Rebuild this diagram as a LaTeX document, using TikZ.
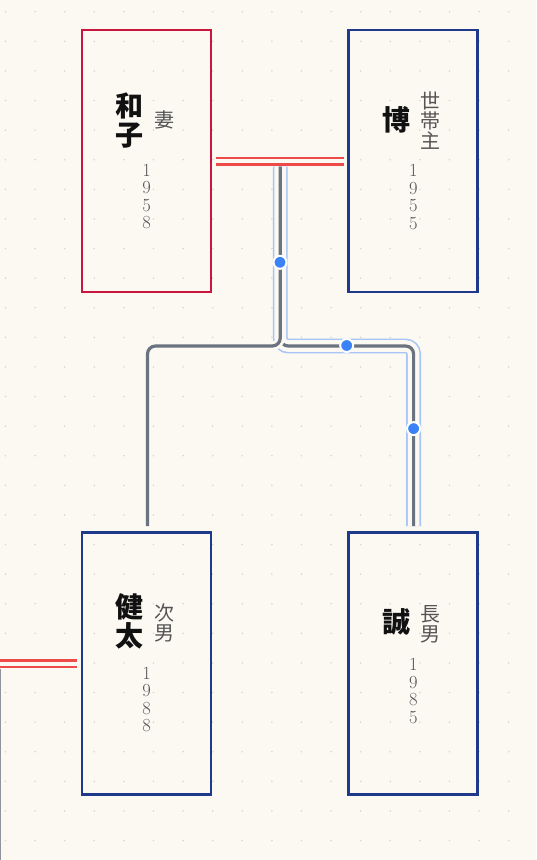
\documentclass[tikz,border=0pt]{standalone}
\usepackage{fontspec}
\newfontfamily\cjk{Noto Sans CJK JP}
\usetikzlibrary{calc}
\definecolor{bg}{HTML}{FCF8F2}
\definecolor{griddot}{HTML}{DAD6D0}
\definecolor{wife}{HTML}{C8163E}
\definecolor{man}{HTML}{1F3A8A}
\definecolor{wed}{HTML}{EF4A4A}
\definecolor{kid}{HTML}{6B7280}
\definecolor{edgegray}{HTML}{8E939C}
\definecolor{halo}{HTML}{A8C5F7}
\definecolor{dotblue}{HTML}{3B82F6}
\definecolor{ink}{HTML}{111111}
\definecolor{soft}{HTML}{555555}
\begin{document}
\begin{tikzpicture}[x=1pt,y=-1pt,
  personbox/.style={draw, line width=2.8pt, minimum width=129pt, minimum height=262pt, inner sep=0pt, outer sep=0pt},
  femalebox/.style={personbox, draw=wife},
  malebox/.style={personbox, draw=man},
  namecol/.style={font=\cjk\bfseries\fontsize{28}{28.5}\selectfont, text=ink, align=center, inner sep=0pt},
  rolecol/.style={font=\cjk\fontsize{20}{20}\selectfont, text=soft, align=center, inner sep=0pt},
  yearcol/.style={font=\fontsize{18.5}{17.6}\selectfont, text=soft, align=center, inner sep=0pt},
  marriage/.style={draw=wed, line width=2.5pt, double=bg, double distance=4pt},
  haloouter/.style={draw=halo, line width=14.8pt, rounded corners=8pt},
  haloinner/.style={draw=bg, line width=11.6pt, rounded corners=8pt},
  casing/.style={draw=bg, line width=9pt, rounded corners=8pt},
  kidline/.style={draw=kid, line width=3.2pt, rounded corners=8pt},
  pathdot/.style={circle, fill=dotblue, draw=white, line width=2pt, minimum size=13pt, inner sep=0pt}
]
\useasboundingbox (0,0) rectangle (536,860);
\fill[bg] (0,0) rectangle (536,860);
\foreach \i in {0,...,17}{
  \foreach \j in {0,...,28}{
    \fill[griddot] (5.5+29.6*\i, 11.7+29.6*\j) circle (0.9pt);
  }
}

% person boxes
\node[femalebox] (kazuko) at (146.5,161) {};
\node[malebox] (hiroshi) at (413,161) {};
\node[malebox] (kenta) at (146.5,663.5) {};
\node[malebox] (makoto) at (413,663.5) {};

% texts
\node[namecol] (kazukoName) at (129.3,120.5) {和\\子};
\node[rolecol] (kazukoRole) at (164,120) {妻};
\node[yearcol] (kazukoYear) at (146.7,196.5) {1\\9\\5\\8};

\node[namecol] (hiroshiName) at (396,120) {博};
\node[rolecol] (hiroshiRole) at (430,120.5) {世\\帯\\主};
\node[yearcol] (hiroshiYear) at (413.3,197) {1\\9\\5\\5};

\node[namecol] (kentaName) at (129.3,621.5) {健\\太};
\node[rolecol] (kentaRole) at (164,623) {次\\男};
\node[yearcol] (kentaYear) at (146.7,699.5) {1\\9\\8\\8};

\node[namecol] (makotoName) at (396,622) {誠};
\node[rolecol] (makotoRole) at (430,624) {長\\男};
\node[yearcol] (makotoYear) at (413.3,691) {1\\9\\8\\5};

% marriage lines
\draw[marriage] ([xshift=5pt]kazuko.east) -- ([xshift=-5pt]hiroshi.west);
\coordinate (offLeft) at (0,663.5);
\draw[marriage] ([xshift=-5pt]kenta.west) -- (offLeft);
\coordinate (offTop) at (0.3,669);
\coordinate (offBottom) at (0.3,860);
\draw[edgegray, line width=1.4pt] (offTop) -- (offBottom);

% descent coordinates
\coordinate (wedmid) at ($(kazuko.east)!0.5!(hiroshi.west)$);
\coordinate (drop) at ($(wedmid)+(0.5,5.5)$);
\coordinate (fork) at ($(drop)+(0,179.5)$);
\coordinate (kentaTop) at ($(kenta.north)+(1,-6.5)$);
\coordinate (makotoTop) at ($(makoto.north)+(0.6,-6.5)$);

% highlighted branch (to makoto)
\draw[haloouter] (drop) -- (fork) -- (fork -| makotoTop) -- (makotoTop);
\draw[haloinner] (drop) -- (fork) -- (fork -| makotoTop) -- (makotoTop);
\draw[kidline] (drop) -- (fork) -- (fork -| makotoTop) -- (makotoTop);

% other branch (to kenta)
\draw[casing] (drop) -- (fork) -- (fork -| kentaTop) -- (kentaTop);
\draw[kidline] (drop) -- (fork) -- (fork -| kentaTop) -- (kentaTop);

% dots on highlighted branch
\node[pathdot] (dotA) at (280,262.3) {};
\node[pathdot] (dotB) at (346.7,345.5) {};
\node[pathdot] (dotC) at (413.6,428.6) {};
\end{tikzpicture}
\end{document}
